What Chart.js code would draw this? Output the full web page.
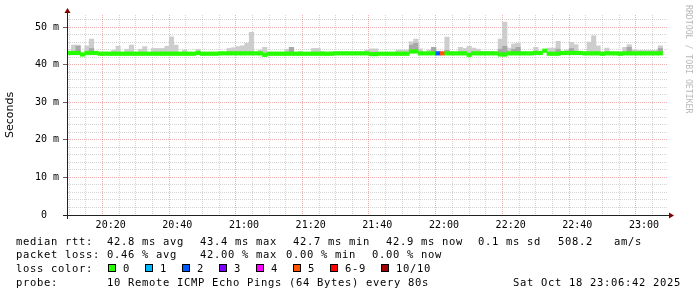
<!DOCTYPE html>
<html>
<head>
  <meta charset="utf-8">
  <title>SmokePing - median rtt</title>
  <script src="https://cdn.jsdelivr.net/npm/chart.js"></script>
  <style>
    body {
      margin: 0;
      background-color: #ffffff;
    }
    #grafico {
      display: block;
    }
  </style>
</head>
<body>
  <canvas id="grafico" width="697" height="297"></canvas>

  <script>
    // one value per 80 s step, each row of 15 steps = 20 minutes
    var startMinute = 6.9;          // minutes after 20:00 at the left edge
    var stepMinutes = 80 / 60;
    var endMinute = 186.9;

    var median = [
      43.1, 43.1, 43.1, 42.7, 43.1, 43.1, 43.1, 42.9, 42.9, 42.9, 42.9, 42.9, 42.9, 42.9, 42.9,
      42.9, 42.9, 42.9, 42.9, 42.9, 42.9, 42.9, 42.9, 42.9, 42.9, 42.9, 42.9, 42.9, 42.9, 43.1,
      42.9, 42.9, 42.9, 42.9, 43.0, 43.0, 43.0, 43.0, 43.0, 43.0, 43.0, 43.0, 43.0, 43.0, 42.6,
      42.9, 42.9, 42.9, 42.9, 42.9, 42.9, 42.9, 42.9, 42.9, 42.9, 42.9, 42.9, 42.9, 42.9, 42.9,
      43.0, 43.0, 43.0, 43.0, 43.0, 43.0, 43.0, 43.0, 42.8, 42.8, 42.9, 42.9, 42.9, 42.9, 42.9,
      42.9, 42.9, 43.5, 43.5, 43.0, 43.0, 43.0, 43.0, 43.0, 43.0, 43.0, 43.0, 43.0, 43.0, 43.0,
      42.6, 43.0, 43.0, 43.0, 43.0, 43.0, 43.0, 42.7, 42.7, 43.0, 43.0, 43.0, 43.0, 43.0, 43.0,
      43.1, 43.1, 43.7, 42.9, 42.9, 42.9, 43.1, 43.1, 43.1, 43.1, 43.1, 43.0, 43.0, 43.0, 43.0,
      42.9, 43.0, 43.0, 43.0, 42.9, 43.0, 43.0, 43.0, 43.0, 43.0, 43.0, 43.0, 43.0, 43.0, null
    ];

    // index into lossLabels / lossColors
    var loss = [
      0, 0, 0, 0, 0, 0, 0, 0, 0, 0, 0, 0, 0, 0, 0,
      0, 0, 0, 0, 0, 0, 0, 0, 0, 0, 0, 0, 0, 0, 0,
      0, 0, 0, 0, 0, 0, 0, 0, 0, 0, 0, 0, 0, 0, 0,
      0, 0, 0, 0, 0, 0, 0, 0, 0, 0, 0, 0, 0, 0, 0,
      0, 0, 0, 0, 0, 0, 0, 0, 0, 0, 0, 0, 0, 0, 0,
      0, 0, 0, 0, 0, 0, 0, 0, 2, 5, 0, 0, 0, 0, 0,
      0, 0, 0, 0, 0, 0, 0, 0, 0, 0, 0, 0, 0, 0, 0,
      0, 0, 0, 0, 0, 0, 0, 0, 0, 0, 0, 0, 0, 0, 0,
      0, 0, 0, 0, 0, 0, 0, 0, 0, 0, 0, 0, 0, 0, null
    ];

    // highest ping of each step (smoke top), null = hidden under the median
    var smokeMax = [
      null, 45.2, 45.2, null, 45.0, 46.8, null, null, null, null, 43.8, 44.9, null, 44.1, 45.2,
      null, 44.1, 44.8, null, 44.3, 44.3, 44.3, 44.9, 47.4, 45.2, null, 43.9, null, null, 44.1,
      null, null, null, null, null, null, 44.3, 44.5, 44.8, 45.0, 45.7, 48.6, null, 43.9, 44.6,
      null, null, null, null, 44.1, 44.6, null, 43.5, null, null, 44.3, 44.3, 43.5, null, 43.4,
      43.4, null, 43.4, null, null, null, null, 43.9, 44.2, 44.2, null, null, null, null, 43.9,
      43.9, 43.9, 46.1, 46.8, 44.2, null, 43.9, 44.6, null, null, 47.3, null, null, 44.6, 44.3,
      44.9, 44.4, 44.1, 43.5, 43.5, 43.5, null, 46.8, 51.3, 44.4, 45.5, 45.7, null, null, null,
      44.6, null, null, 44.4, 44.4, 46.2, null, 43.9, 45.9, 45.3, null, null, 46.0, 47.7, 45.0,
      null, 44.4, null, null, 43.5, 44.6, 45.3, 43.9, 43.8, 43.8, 43.8, 43.8, 43.8, 45.0, null
    ];

    // denser part of the smoke
    var smokeDense = [
      null, null, 44.9, null, null, 44.3, null, null, null, null, null, null, null, null, null,
      null, null, null, null, null, null, null, null, null, null, null, null, null, null, null,
      null, null, null, null, null, null, null, null, null, null, null, null, null, null, null,
      null, null, null, null, null, 44.6, null, null, null, null, null, null, null, null, null,
      null, null, null, null, null, null, null, null, null, null, null, null, null, null, null,
      null, null, 45.2, 45.7, null, null, null, 44.6, null, null, 43.8, null, null, null, null,
      null, null, null, null, null, null, null, 44.1, 44.9, null, 44.1, 44.6, null, null, null,
      null, null, null, null, null, 44.1, null, null, 44.3, null, null, null, null, null, null,
      null, null, null, null, null, null, 44.6, null, null, null, null, null, null, 44.3, null
    ];

    var xTickValues = [20, 40, 60, 80, 100, 120, 140, 160, 180];
    var xTickLabels = ["20:20", "20:40", "21:00", "21:20", "21:40", "22:00", "22:20", "22:40", "23:00"];
    var yTickValues = [0, 10, 20, 30, 40, 50];
    var yTickLabels = ["0  ", "10 m", "20 m", "30 m", "40 m", "50 m"];
    var yMax = 53.2;

    var lossLabels = ["0", "1", "2", "3", "4", "5", "6-9", "10/10"];
    var lossColors = ["#26ff00", "#00b8ff", "#0059ff", "#7e00ff", "#ff00ff", "#ff5500", "#ff0000", "#a10000"];

    var statsRtt = [[16, "median rtt:"], [107, "42.8 ms avg"], [200, "43.4 ms max"], [293, "42.7 ms min"],
                    [386, "42.9 ms now"], [478, "0.1 ms sd"], [558, "508.2"], [614, "am/s"]];
    var statsLoss = [[16, "packet loss:"], [107, "0.46 % avg"], [200, "42.00 % max"], [286, "0.00 % min"],
                     [372, "0.00 % now"]];
    var probeLine = [[16, "probe:"], [107, "10 Remote ICMP Echo Pings (64 Bytes) every 80s"],
                     [513, "Sat Oct 18 23:06:42 2025"]];

    var GRID = "rgba(143,143,143,0.38)";
    var MGRID = "rgba(222,79,79,0.45)";

    function stepTime(i) {
      return startMinute + (i + 0.5) * stepMinutes;
    }

    function isMajor(c, list) {
      return !!(c && c.tick && list.indexOf(c.tick.value) >= 0);
    }

    var medianData = [], medianColors = [], lightData = [], denseData = [];
    for (var i = 0; i < median.length; i++) {
      var t = stepTime(i);
      var m = median[i];
      medianData.push({ x: t, y: m === null ? null : [m - 0.47, m + 0.47] });
      medianColors.push(lossColors[loss[i] || 0]);
      lightData.push({ x: t, y: (smokeMax[i] === null || m === null) ? null : [m, smokeMax[i]] });
      denseData.push({ x: t, y: (smokeDense[i] === null || m === null) ? null : [m, smokeDense[i]] });
    }

    var minorX = [];
    for (var v = 10; v < endMinute; v += 5) minorX.push(v);
    var minorY = [];
    for (var w = 0; w < yMax; w += 2) minorY.push(w);

    function monoText(ctx, text, x, y) {
      for (var k = 0; k < text.length; k++) ctx.fillText(text[k], x + k * 7, y);
    }

    var decor = {
      id: "decor",
      afterDraw: function (chart) {
        var ctx = chart.ctx, a = chart.chartArea;
        ctx.save();

        // axes running past the canvas, with arrows
        ctx.strokeStyle = "#212121";
        ctx.lineWidth = 1;
        ctx.beginPath();
        ctx.moveTo(a.left + 0.5, a.bottom + 4);
        ctx.lineTo(a.left + 0.5, a.top - 3);
        ctx.moveTo(a.left - 4, a.bottom + 0.5);
        ctx.lineTo(a.right + 2, a.bottom + 0.5);
        ctx.stroke();
        ctx.fillStyle = "#800000";
        ctx.beginPath();
        ctx.moveTo(a.left - 2.5, a.top - 2);
        ctx.lineTo(a.left + 3.5, a.top - 2);
        ctx.lineTo(a.left + 0.5, a.top - 7);
        ctx.fill();
        ctx.beginPath();
        ctx.moveTo(a.right + 2, a.bottom - 2.5);
        ctx.lineTo(a.right + 2, a.bottom + 3.5);
        ctx.lineTo(a.right + 7, a.bottom + 0.5);
        ctx.fill();

        // watermark
        ctx.fillStyle = "#b8b8b8";
        ctx.font = '8.2px "DejaVu Sans Mono"';
        ctx.textBaseline = "middle";
        ctx.translate(688, 5);
        ctx.rotate(Math.PI / 2);
        ctx.fillText("RRDTOOL / TOBI OETIKER", 0, 0);
        ctx.setTransform(1, 0, 0, 1, 0, 0);

        // legend block
        ctx.fillStyle = "#000000";
        ctx.font = '10.5px "DejaVu Sans Mono"';
        ctx.textBaseline = "alphabetic";
        statsRtt.forEach(function (c) { monoText(ctx, c[1], c[0], 244.5); });
        statsLoss.forEach(function (c) { monoText(ctx, c[1], c[0], 258); });
        monoText(ctx, "loss color:", 16, 272);
        var bx = 108;
        for (var j = 0; j < lossLabels.length; j++) {
          ctx.fillStyle = lossColors[j];
          ctx.fillRect(bx, 264, 8, 8);
          ctx.strokeStyle = "#000000";
          ctx.strokeRect(bx + 0.5, 264.5, 7, 7);
          ctx.fillStyle = "#000000";
          monoText(ctx, lossLabels[j], bx + 15, 272);
          bx = Math.round(bx + 15 + lossLabels[j].length * 7 + 15.4);
        }
        probeLine.forEach(function (c) { monoText(ctx, c[1], c[0], 285.5); });

        ctx.restore();
      }
    };

    var tickFont = { family: "DejaVu Sans Mono", size: 10 };

    var chart = new Chart(document.getElementById("grafico").getContext("2d"), {
      type: "bar",
      data: {
        datasets: [
          { label: "median rtt", data: medianData, backgroundColor: medianColors,
            grouped: false, barPercentage: 1, categoryPercentage: 1 },
          { label: "smoke dense", data: denseData, backgroundColor: "#a8a8a8",
            grouped: false, barPercentage: 1, categoryPercentage: 1 },
          { label: "smoke", data: lightData, backgroundColor: "#cdcdcd",
            grouped: false, barPercentage: 1, categoryPercentage: 1 }
        ]
      },
      options: {
        responsive: false,
        animation: false,
        devicePixelRatio: 1,
        layout: { padding: { top: 15, right: 30, left: 0, bottom: 0 } },
        plugins: {
          legend: { display: false },
          tooltip: { enabled: false }
        },
        scales: {
          x: {
            type: "linear",
            min: startMinute,
            max: endMinute,
            offset: false,
            afterBuildTicks: function (s) { s.ticks = minorX.map(function (v) { return { value: v }; }); },
            afterFit: function (s) { s.height = 82; },
            ticks: {
              autoSkip: false,
              maxRotation: 0,
              padding: 4,
              color: "#000000",
              font: tickFont,
              callback: function (v) {
                var k = xTickValues.indexOf(v);
                return k < 0 ? "" : xTickLabels[k];
              }
            },
            grid: {
              drawTicks: false,
              lineWidth: 1,
              color: function (c) { return isMajor(c, xTickValues) ? MGRID : GRID; }
            },
            border: { color: "#212121", dash: [1, 1] }
          },
          y: {
            min: 0,
            max: yMax,
            afterBuildTicks: function (s) { s.ticks = minorY.map(function (v) { return { value: v }; }); },
            afterFit: function (s) { s.width = 67; },
            ticks: {
              autoSkip: false,
              padding: 4,
              color: "#000000",
              font: tickFont,
              callback: function (v) {
                var k = yTickValues.indexOf(v);
                return k < 0 ? "" : yTickLabels[k];
              }
            },
            grid: {
              tickLength: 4,
              lineWidth: 1,
              tickColor: function (c) { return isMajor(c, yTickValues) ? "#666666" : "rgba(0,0,0,0)"; },
              color: function (c) { return isMajor(c, yTickValues) ? MGRID : GRID; }
            },
            border: { color: "#212121", dash: [1, 1] },
            title: {
              display: true,
              text: "Seconds",
              color: "#000000",
              font: { family: "DejaVu Sans", size: 11 },
              padding: { top: 4, bottom: 4 }
            }
          }
        }
      },
      plugins: [decor]
    });
  </script>
</body>
</html>
